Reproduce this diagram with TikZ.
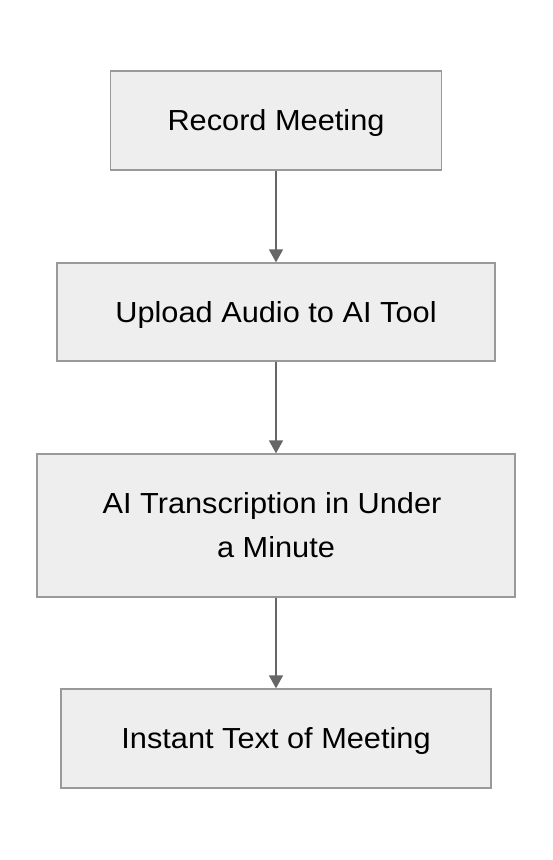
\documentclass[tikz,border=0pt]{standalone}
\usepackage{fontspec}
\setmainfont{Liberation Sans}[FakeStretch=1.06]
\usetikzlibrary{arrows.meta}
\definecolor{boxfill}{HTML}{EEEEEE}
\definecolor{boxline}{HTML}{999999}
\definecolor{arrowcol}{HTML}{666666}
\tikzset{
  stepbox/.style={draw=boxline, fill=boxfill, line width=1.3pt, rectangle, inner sep=0pt,
    font=\fontsize{29}{44}\selectfont, align=center, text=black},
  flow/.style={draw=arrowcol, line width=1.6pt, -{Triangle[length=13pt,width=14pt]}}
}
\begin{document}
\begin{tikzpicture}[x=1pt,y=1pt]
\useasboundingbox (0,0) rectangle (552,860);
\node[stepbox, minimum width=331pt, minimum height=99pt, text height=21pt, text depth=0pt] (b1) at (276,739.5) {Record Meeting};
\node[stepbox, minimum width=438pt, minimum height=98pt, text height=21pt, text depth=0pt] (b2) at (276,548) {Upload Audio to AI Tool};
\node[stepbox, minimum width=478pt, minimum height=143pt] (b3) at (276,334.5) {AI Transcription in Under\hspace*{8pt}\\a Minute};
\node[stepbox, minimum width=430pt, minimum height=99pt, text height=21pt, text depth=0pt] (b4) at (276,121.5) {Instant Text of Meeting};
\draw[flow] (b1) -- (b2);
\draw[flow] (b2) -- (b3);
\draw[flow] (b3) -- (b4);
\end{tikzpicture}
\end{document}
